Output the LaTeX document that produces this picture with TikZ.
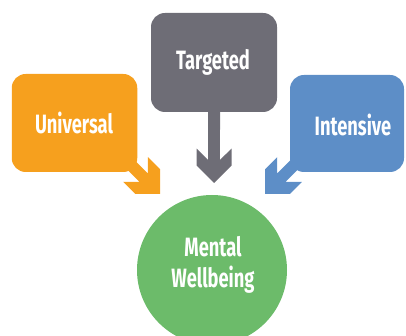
\documentclass[tikz,border=0pt]{standalone}
\usepackage{fontspec}
\newfontfamily\dinfont[FakeStretch=0.69]{Fira Sans}
\usetikzlibrary{calc}
\definecolor{uorange}{RGB}{246,160,30}
\definecolor{tgray}{RGB}{110,109,118}
\definecolor{iblue}{RGB}{93,142,199}
\definecolor{mgreen}{RGB}{108,187,106}
\newcommand{\blockarrow}[3]{%
  \fill[#3] (#2) -- ($(#2)!24.75pt!45:(#1)$) -- ($(#2)!38.68pt!26.9:(#1)$)
   -- ($(#2)!23.77pt!14.6:(#1)$) -- ($(#1)!6pt!-90:(#2)$) -- ($(#1)!6pt!90:(#2)$)
   -- ($(#2)!23.77pt!-14.6:(#1)$) -- ($(#2)!38.68pt!-26.9:(#1)$)
   -- ($(#2)!24.75pt!-45:(#1)$) -- cycle;}
\begin{document}
\begin{tikzpicture}[x=1pt,y=1pt,
  box/.style={rounded corners=14pt, inner sep=0pt},
  lbl/.style={text=white, font=\dinfont\bfseries\fontsize{26.5}{31}\selectfont, inner sep=0pt, align=center}]
\useasboundingbox (0,-336) rectangle (406,0);
\clip (0,-336) rectangle (406,0);
% boxes
\node[box, fill=uorange, minimum width=125.5pt, minimum height=98pt] (universal) at (74.5,-123) {};
\node[box, fill=tgray, minimum width=126pt, minimum height=99pt] (targeted) at (214,-62.5) {};
\node[box, fill=iblue, minimum width=114pt, minimum height=97pt] (intensive) at (347,-123.5) {};
\node[circle, fill=mgreen, minimum size=150pt, inner sep=0pt] (wellbeing) at (212,-270) {};
% connector anchors
\coordinate (us) at (122,-156);
\coordinate (ut) at (160,-194);
\coordinate (ts) at (214,-100);
\coordinate (tt) at (214,-183);
\coordinate (is) at (303,-156);
\coordinate (it) at (265,-194);
\blockarrow{us}{ut}{uorange}
\blockarrow{ts}{tt}{tgray}
\blockarrow{is}{it}{iblue}
% labels
\node[lbl] (universaltext) at (74,-123) {Universal};
\node[lbl] (targetedtext) at (213,-62) {Targeted};
\node[lbl] (intensivetext) at (353,-125) {Intensive};
\node[lbl] (wellbeingtext) at (213,-265) {Mental\\Wellbeing};
\end{tikzpicture}
\end{document}
